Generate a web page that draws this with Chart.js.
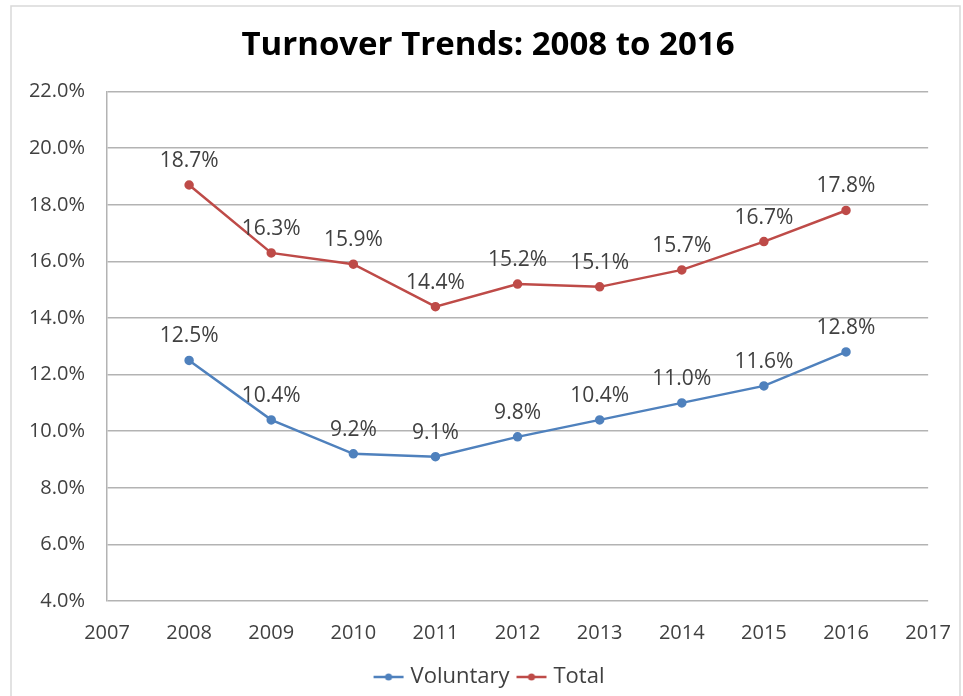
<!DOCTYPE html>
<html>
<head>
<meta charset="utf-8">
<title>Turnover Trends</title>
<script src="https://cdn.jsdelivr.net/npm/chart.js@4/dist/chart.umd.min.js"></script>
<style>
  html, body { margin: 0; padding: 0; background: #fff; }
  #wrap { position: relative; width: 963px; height: 696px; }
</style>
</head>
<body>
<div id="wrap"><canvas id="turnoverChart" width="963" height="696"></canvas></div>
<script>
// turnover rates (%) by year
const years = [2008, 2009, 2010, 2011, 2012, 2013, 2014, 2015, 2016];
const voluntary = [12.5, 10.4, 9.2, 9.1, 9.8, 10.4, 11.0, 11.6, 12.8];
const total = [18.7, 16.3, 15.9, 14.4, 15.2, 15.1, 15.7, 16.7, 17.8];
const seriesNames = ['Voluntary', 'Total'];

const BLUE = '#4f81bd';
const RED = '#be4b48';
const TEXT = '#404040';
const GRID = '#b3b3b3';
const FONT = "'Open Sans', 'DejaVu Sans', sans-serif";

// legend marker: short line with a dot in the middle
function legendMark(color) {
  const c = document.createElement('canvas');
  c.width = 32; c.height = 12;
  const g = c.getContext('2d');
  g.strokeStyle = color; g.lineWidth = 2.5;
  g.beginPath(); g.moveTo(1, 6); g.lineTo(31, 6); g.stroke();
  g.fillStyle = color;
  g.beginPath(); g.arc(16, 6, 3.5, 0, Math.PI * 2); g.fill();
  return c;
}

const pts = arr => arr.map((v, i) => ({ x: years[i], y: v }));

// frame around the whole chart; title and legend centred on the full frame,
// not on the padded layout box
const frame = {
  id: 'frame',
  afterLayout(chart) {
    if (chart.titleBlock) chart.titleBlock.left += 36;
    if (chart.legend) { chart.legend.left += 42; chart.legend.top -= 2; }
  },
  beforeDraw(chart) {
    const ctx = chart.ctx;
    ctx.save();
    ctx.fillStyle = '#fff';
    ctx.fillRect(0, 0, chart.width, chart.height);
    ctx.strokeStyle = '#d9d9d9';
    ctx.lineWidth = 1.5;
    ctx.strokeRect(11, 6, 949, 700);
    ctx.restore();
  }
};

// value labels centred above each point
const valueLabels = {
  id: 'valueLabels',
  afterDatasetsDraw(chart) {
    const ctx = chart.ctx;
    ctx.save();
    ctx.font = '21px ' + FONT;
    ctx.fillStyle = TEXT;
    ctx.textAlign = 'center';
    ctx.textBaseline = 'middle';
    chart.data.datasets.forEach((ds, di) => {
      chart.getDatasetMeta(di).data.forEach((p, i) => {
        ctx.fillText(ds.data[i].y.toFixed(1) + '%', p.x, p.y - 24);
      });
    });
    ctx.restore();
  }
};

new Chart(document.getElementById('turnoverChart'), {
  type: 'line',
  data: {
    datasets: [
      { label: seriesNames[0], data: pts(voluntary), borderColor: BLUE, backgroundColor: BLUE,
        borderWidth: 2.5, pointRadius: 3.5, pointHoverRadius: 3.5, pointStyle: 'circle', tension: 0 },
      { label: seriesNames[1], data: pts(total), borderColor: RED, backgroundColor: RED,
        borderWidth: 2.5, pointRadius: 3.5, pointHoverRadius: 3.5, pointStyle: 'circle', tension: 0 }
    ]
  },
  options: {
    responsive: false,
    animation: false,
    layout: { padding: { left: 10, right: 33, top: 22, bottom: -4 } },
    plugins: {
      title: {
        display: true,
        text: 'Turnover Trends: 2008 to 2016',
        color: '#000',
        font: { family: FONT, size: 33, weight: 'bold' },
        padding: { top: 4, bottom: 26 }
      },
      legend: {
        position: 'bottom',
        labels: {
          color: TEXT,
          font: { family: FONT, size: 22 },
          usePointStyle: true,
          pointStyleWidth: 22,
          padding: 11,
          generateLabels(chart) {
            return chart.data.datasets.map((ds, i) => ({
              text: ds.label, datasetIndex: i, fontColor: TEXT,
              pointStyle: legendMark(ds.borderColor), lineWidth: 0,
              strokeStyle: 'transparent', fillStyle: 'transparent'
            }));
          }
        }
      },
      tooltip: { enabled: false }
    },
    scales: {
      x: {
        type: 'linear',
        min: 2007, max: 2017,
        grid: { display: false },
        border: { display: false },
        ticks: { stepSize: 1, color: TEXT, padding: 12, font: { family: FONT, size: 20 }, callback: v => String(v) }
      },
      y: {
        min: 4, max: 22,
        grid: { color: GRID, lineWidth: 1.5, drawTicks: false },
        border: { display: true, color: GRID, width: 1.5 },
        ticks: { stepSize: 2, color: TEXT, padding: 22, font: { family: FONT, size: 20 }, callback: v => v.toFixed(1) + '%' },
        afterFit(s) { s.width = 97; }
      }
    }
  },
  plugins: [frame, valueLabels]
});
</script>
</body>
</html>
